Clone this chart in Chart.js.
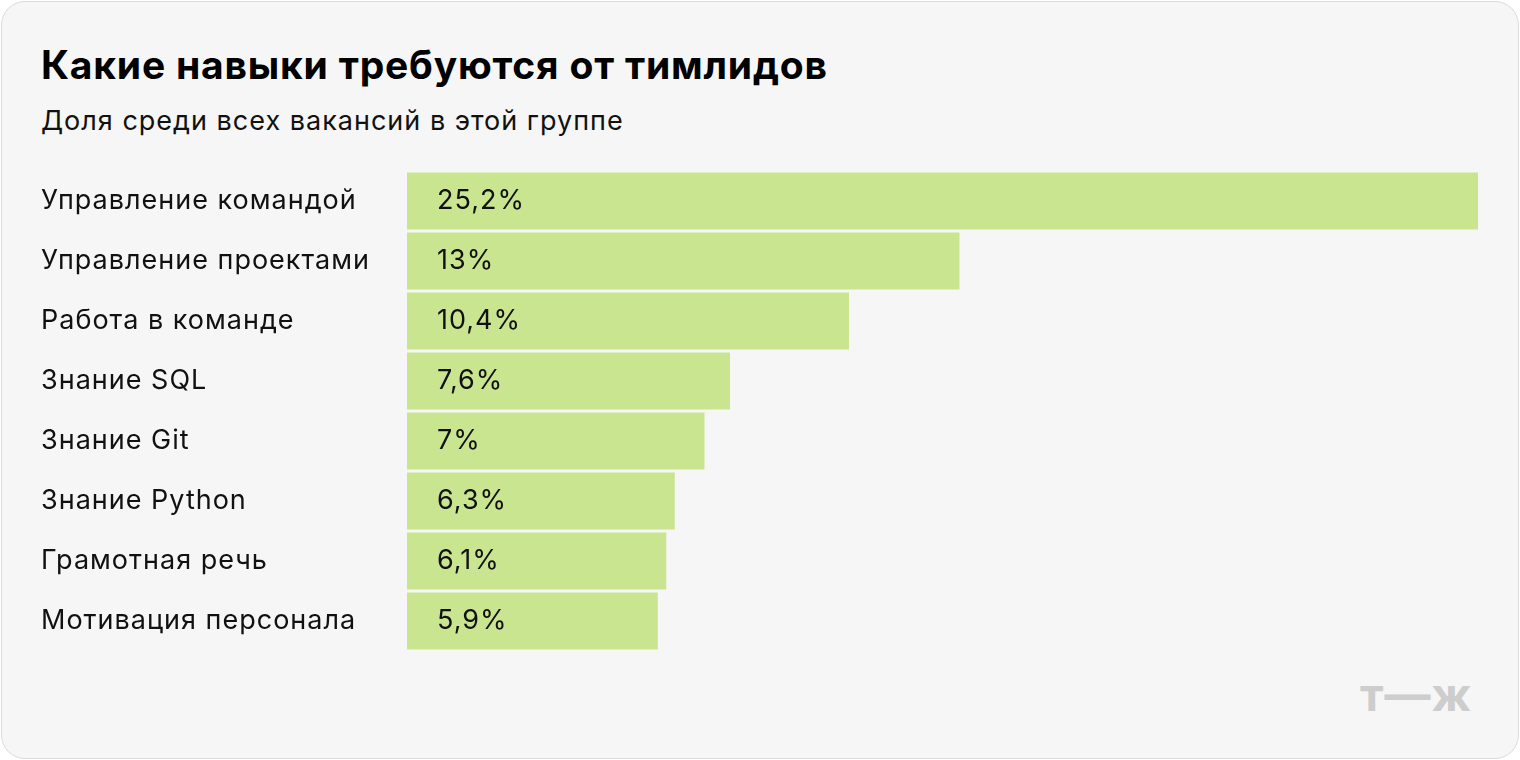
<!DOCTYPE html>
<html><head><meta charset="utf-8">
<script src="https://cdn.jsdelivr.net/npm/chart.js@4"></script>
<style>
html,body{margin:0;padding:0;background:#fff;}
#card{position:absolute;left:1px;top:1px;width:1516px;height:756px;border:1px solid #dcdcdc;border-radius:24px;background:#f6f6f6;overflow:hidden;font-family:Inter,Roboto,sans-serif;}
#title{position:absolute;left:39px;top:39px;font-size:39px;font-weight:700;color:#000;letter-spacing:0.8px;}
#sub{position:absolute;left:39px;top:102px;font-size:27px;color:#111;letter-spacing:1px;}
#logo{position:absolute;left:1358px;top:664px;font-size:46px;font-weight:700;color:#cdcdcd;letter-spacing:1px;}
canvas{position:absolute;left:0;top:0;}
</style></head><body>
<div id="card">
<div id="title">Какие навыки требуются от тимлидов</div>
<div id="sub">Доля среди всех вакансий в этой группе</div>
<div id="logo">т—ж</div>
<canvas id="c" width="1516" height="756"></canvas>
</div>
<script>
// Data
const skills = ['Управление командой', 'Управление проектами', 'Работа в команде', 'Знание SQL', 'Знание Git', 'Знание Python', 'Грамотная речь', 'Мотивация персонала'];
const shares = [25.2, 13, 10.4, 7.6, 7, 6.3, 6.1, 5.9];

// draws category names on the left and values inside bars
const labelPlugin = {
    id: 'labels',
    afterDatasetsDraw(chart) {
        const ctx = chart.ctx;
        const meta = chart.getDatasetMeta(0);
        ctx.save();
        ctx.font = '27px Inter, Roboto, sans-serif';
        ctx.letterSpacing = '1px';
        ctx.fillStyle = '#111';
        ctx.textBaseline = 'middle';
        meta.data.forEach((bar, i) => {
            ctx.fillText(skills[i], 39, bar.y);
            ctx.fillText(String(shares[i]).replace('.', ',') + '%', bar.base + 30, bar.y);
        });
        ctx.restore();
    }
};

new Chart(document.getElementById('c'), {
    type: 'bar',
    data: {
        labels: skills,
        datasets: [{ data: shares, backgroundColor: '#cae590', borderWidth: 0, barPercentage: 0.95, categoryPercentage: 1 }]
    },
    options: {
        indexAxis: 'y',
        responsive: false,
        animation: false,
        layout: { padding: { left: 405, right: 40, top: 169, bottom: 107 } },
        plugins: { legend: { display: false }, tooltip: { enabled: false } },
        scales: {
            x: { display: false, min: 0, max: 25.2 },
            y: { display: false }
        }
    },
    plugins: [labelPlugin]
});
</script>
</body></html>
